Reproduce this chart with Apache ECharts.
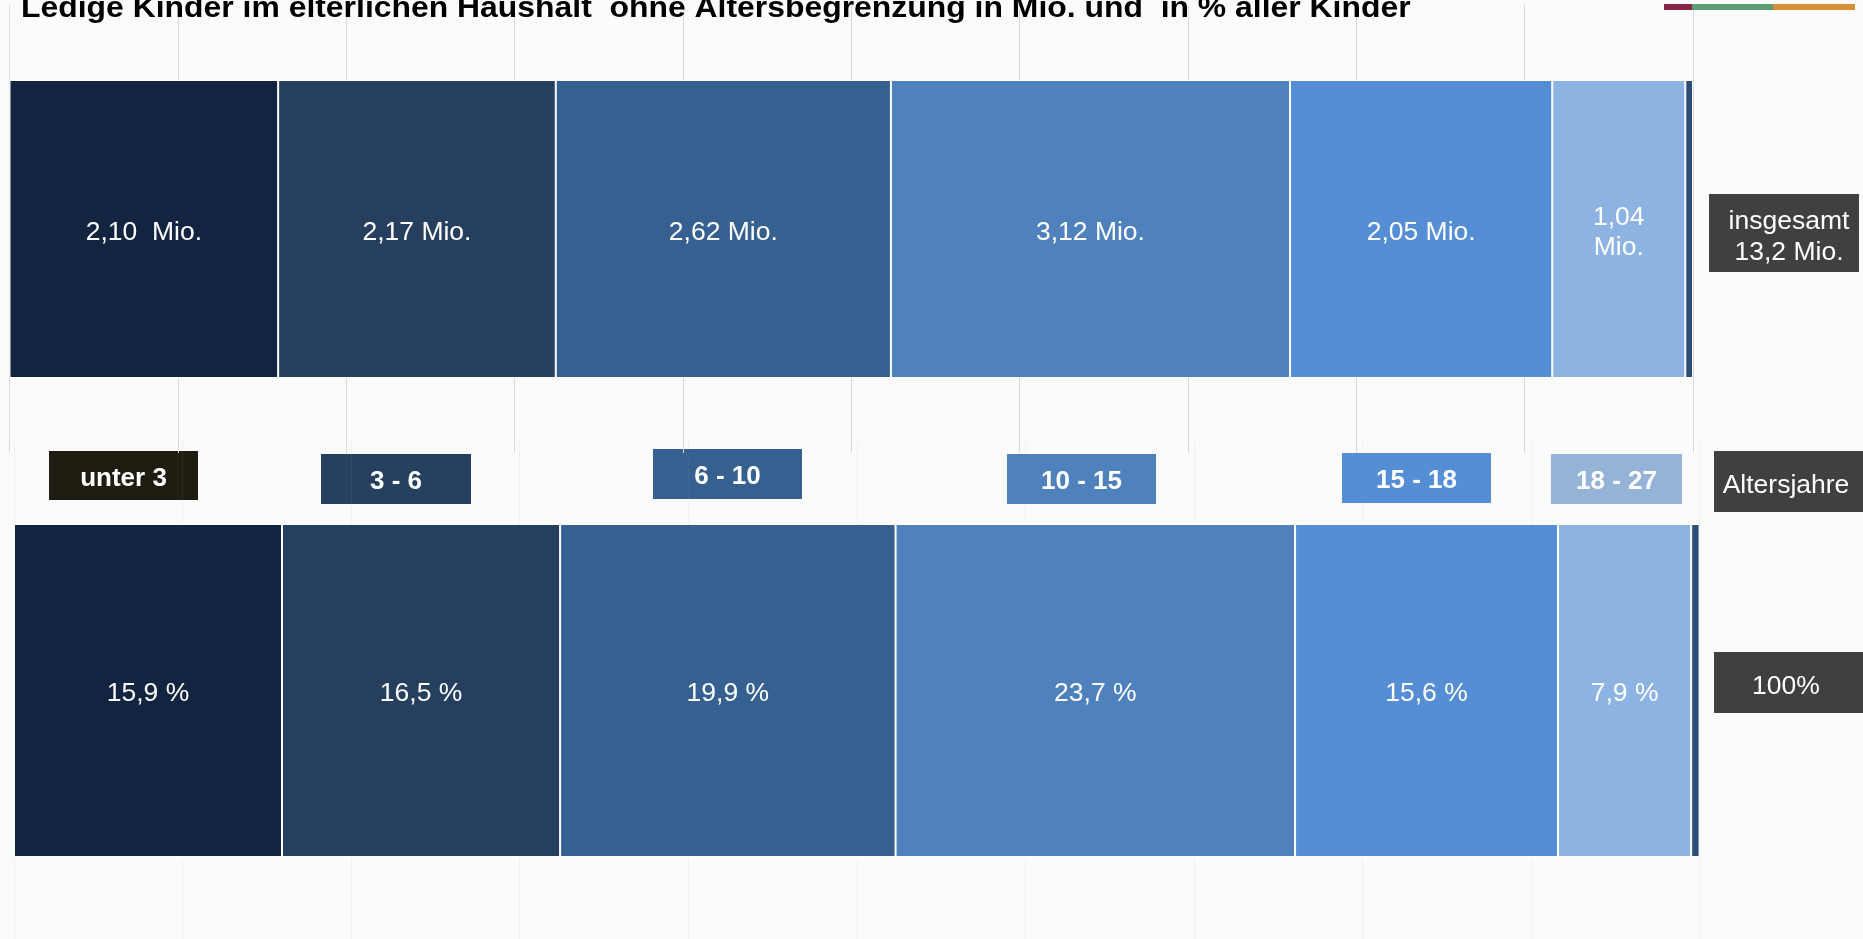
<!DOCTYPE html>
<html>
<head>
<meta charset="utf-8">
<script src="https://cdn.jsdelivr.net/npm/echarts@6/dist/echarts.min.js"></script>
<style>
html,body{margin:0;padding:0;background:#fbfbfb;}
#chart{width:1863px;height:939px;}
</style>
</head>
<body>
<div id="chart"></div>
<script>
// ---- data ----
const titleText = 'Ledige Kinder im elterlichen Haushalt  ohne Altersbegrenzung in Mio. und  in % aller Kinder';
const categories = ['unter 3', '3 - 6', '6 - 10', '10 - 15', '15 - 18', '18 - 27'];
const mioValues = [2.10, 2.17, 2.62, 3.12, 2.05, 1.04];
const mioRest = 0.06;
const mioLabels = ['2,10  Mio.', '2,17 Mio.', '2,62 Mio.', '3,12 Mio.', '2,05 Mio.', '1,04\nMio.'];
const pctValues = [15.9, 16.5, 19.9, 23.7, 15.6, 7.9];
const pctRest = 0.5;
const totalMioLabel = 'insgesamt\n13,2 Mio.';
const totalPctLabel = '100%';
const unitLabel = 'Altersjahre';

// ---- styles / layout ----
const segColors = ['#12243f', '#263f5f', '#366090', '#4f81bd', '#558ed5', '#8db3e2'];
const restColor = '#2c4d75';
const catBoxColors = ['#1f1d12', '#26405f', '#36608f', '#4f81bd', '#558ed5', '#95b3d7'];
const catBoxLayout = [
  [49, 451, 149, 49],
  [321, 454, 150, 50],
  [653, 449, 149, 50],
  [1007, 454, 149, 50],
  [1342, 453, 149, 50],
  [1551, 454, 131, 50]
];
const FONT = '"Liberation Sans", Arial, sans-serif';
const TXT_DY = 3;

const mioTotal = mioValues.reduce((a, b) => a + b, 0) + mioRest;

const chart = echarts.init(document.getElementById('chart'), null, {renderer: 'canvas'});

const series = [];
mioValues.forEach((v, i) => {
  series.push({
    type: 'bar', xAxisIndex: 0, yAxisIndex: 0, stack: 'mio',
    data: [v], barWidth: 298,
    itemStyle: {color: segColors[i], borderColor: '#ffffff', borderWidth: 1},
    label: {show: true, position: 'inside', formatter: mioLabels[i], color: '#ffffff',
            fontSize: 26.5, fontFamily: FONT, lineHeight: 30, offset: [0, 3.5]},
    silent: true
  });
});
series.push({
  type: 'bar', xAxisIndex: 0, yAxisIndex: 0, stack: 'mio', data: [mioRest], barWidth: 298,
  itemStyle: {color: restColor, borderColor: '#ffffff', borderWidth: 1}, label: {show: false}, silent: true
});
pctValues.forEach((v, i) => {
  series.push({
    type: 'bar', xAxisIndex: 1, yAxisIndex: 1, stack: 'pct',
    data: [v], barWidth: 333,
    itemStyle: {color: segColors[i], borderColor: '#ffffff', borderWidth: 1},
    label: {show: true, position: 'inside',
            formatter: (p) => p.value.toFixed(1).replace('.', ',') + ' %',
            color: '#ffffff', fontSize: 26.5, fontFamily: FONT, offset: [0, 3.5]},
    silent: true
  });
});
series.push({
  type: 'bar', xAxisIndex: 1, yAxisIndex: 1, stack: 'pct', data: [pctRest], barWidth: 333,
  itemStyle: {color: restColor, borderColor: '#ffffff', borderWidth: 1}, label: {show: false}, silent: true
});

const graphic = [];
// title
graphic.push({
  type: 'text', x: 21, y: 9, scaleX: 1.10, z: 10,
  style: {text: titleText, font: 'bold 29px ' + FONT, fill: '#000000', align: 'left', verticalAlign: 'middle'}
});
// legend strip (top right)
graphic.push({type: 'rect', z: 10, shape: {x: 1664, y: 4, width: 28, height: 6}, style: {fill: '#8b2346'}});
graphic.push({type: 'rect', z: 10, shape: {x: 1692, y: 4, width: 81, height: 6}, style: {fill: '#5a9e78'}});
graphic.push({type: 'rect', z: 10, shape: {x: 1773, y: 4, width: 82, height: 6}, style: {fill: '#d98f33'}});
// category boxes
categories.forEach((c, i) => {
  const [x, y, w, h] = catBoxLayout[i];
  graphic.push({type: 'rect', z: 0, shape: {x: x, y: y, width: w, height: h}, style: {fill: catBoxColors[i]}});
  graphic.push({type: 'text', z: 0, x: x + w / 2, y: y + h / 2 + TXT_DY,
    style: {text: c, font: 'bold 26px ' + FONT, fill: '#ffffff', align: 'center', verticalAlign: 'middle'}});
});
// right-side boxes
graphic.push({type: 'rect', z: 5, shape: {x: 1709, y: 194, width: 150, height: 78}, style: {fill: '#404040'}});
graphic.push({type: 'text', z: 5, x: 1789, y: 234 + TXT_DY,
  style: {text: totalMioLabel, font: '26.5px ' + FONT, fill: '#ffffff', align: 'center', verticalAlign: 'middle', lineHeight: 31}});
graphic.push({type: 'rect', z: 5, shape: {x: 1714, y: 451, width: 149, height: 61}, style: {fill: '#404040'}});
graphic.push({type: 'text', z: 5, x: 1786, y: 483 + TXT_DY,
  style: {text: unitLabel, font: '26.5px ' + FONT, fill: '#ffffff', align: 'center', verticalAlign: 'middle'}});
graphic.push({type: 'rect', z: 5, shape: {x: 1714, y: 652, width: 149, height: 61}, style: {fill: '#404040'}});
graphic.push({type: 'text', z: 5, x: 1786, y: 684 + TXT_DY,
  style: {text: totalPctLabel, font: '26.5px ' + FONT, fill: '#ffffff', align: 'center', verticalAlign: 'middle'}});

const option = {
  backgroundColor: '#fbfbfb',
  animation: false,
  grid: [
    {left: 9.5, right: 170, top: 5, height: 448},
    {left: 14, right: 163.4, top: 442, height: 497}
  ],
  xAxis: [
    {gridIndex: 0, type: 'value', min: 0, max: mioTotal, interval: mioTotal / 10,
     axisLine: {show: false}, axisTick: {show: false}, axisLabel: {show: false},
     splitLine: {show: true, showMinLine: true, showMaxLine: true, lineStyle: {color: '#d9d9d9', width: 1}}},
    {gridIndex: 1, type: 'value', min: 0, max: 100, interval: 10, z: 1,
     axisLine: {show: false}, axisTick: {show: false}, axisLabel: {show: false},
     splitLine: {show: true, showMinLine: true, showMaxLine: true, lineStyle: {color: 'rgba(160,160,160,0.1)', width: 1}}}
  ],
  yAxis: [
    {gridIndex: 0, type: 'category', data: ['Mio.'], show: false},
    {gridIndex: 1, type: 'category', data: ['%'], show: false}
  ],
  series: series,
  graphic: graphic
};
chart.setOption(option);
</script>
</body>
</html>
